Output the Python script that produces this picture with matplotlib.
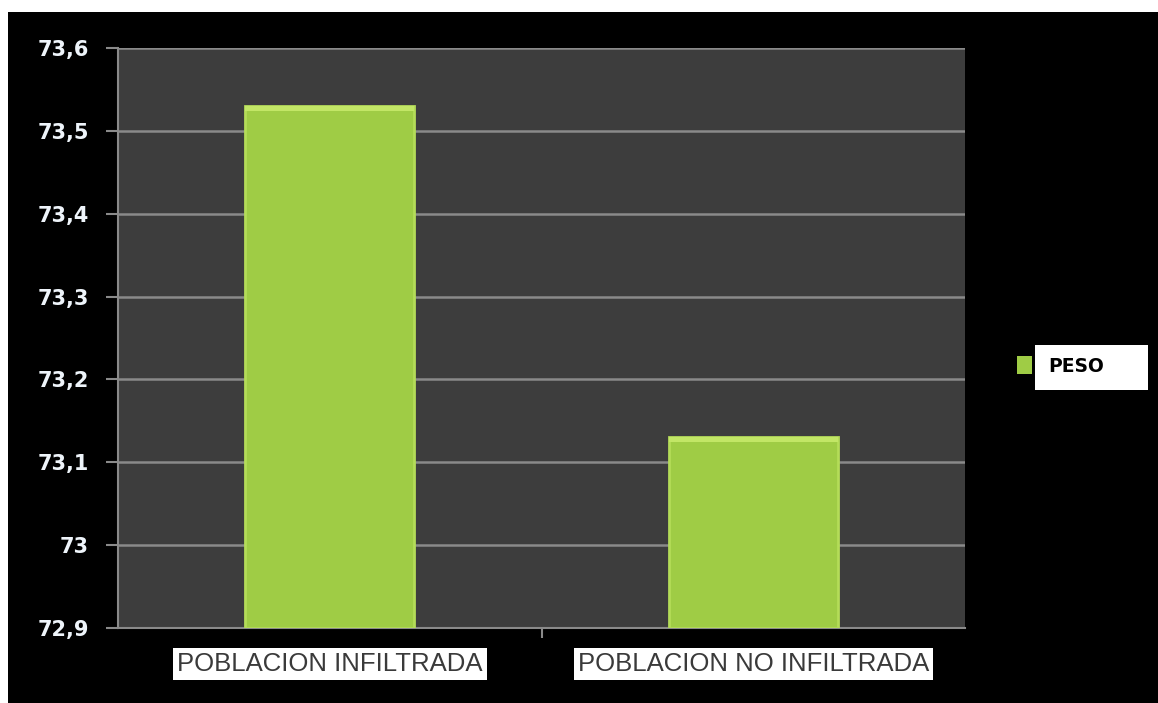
import matplotlib
matplotlib.use('Agg')
import matplotlib.pyplot as plt
from matplotlib.patches import Rectangle, Patch
from matplotlib.ticker import FixedLocator

categorias = ['POBLACION INFILTRADA', 'POBLACION NO INFILTRADA']
peso = [73.53, 73.13]
serie = 'PESO'
y_ticks = [72.9, 73.0, 73.1, 73.2, 73.3, 73.4, 73.5, 73.6]
y_labels = ['72,9', '73', '73,1', '73,2', '73,3', '73,4', '73,5', '73,6']

fig = plt.figure(figsize=(11.58, 7.03), dpi=100)
fig.patch.set_facecolor('white')

# black frame behind everything (white margin top/left like the screenshot)
fig.patches.append(Rectangle((8 / 1158, 0), 1, 1 - 12 / 703, transform=fig.transFigure,
                             facecolor='black', edgecolor='none', zorder=-5))

ax = fig.add_axes([118 / 1158, 1 - 628 / 703, (965 - 118) / 1158, (628 - 48) / 703])
ax.set_zorder(2)
ax.set_facecolor('#3d3d3d')

x = list(range(len(categorias)))
ax.bar(x, [v - 72.9 for v in peso], bottom=72.9, width=0.4,
       color='#9fcc45', edgecolor='#b4dc58', linewidth=2, zorder=3)
# lighter bevel along the top of each bar
ax.bar(x, [0.006] * len(peso), bottom=[v - 0.006 for v in peso], width=0.4,
       color='#c2e666', edgecolor='none', zorder=4)

ax.set_xlim(-0.5, len(categorias) - 0.5)
ax.set_ylim(72.9, 73.6)
ax.set_yticks(y_ticks)
ax.set_yticklabels(y_labels)
ax.yaxis.grid(True, color='#8a8a8a', linewidth=1.8, zorder=1)
ax.set_axisbelow(True)

for s in ['top', 'right']:
    ax.spines[s].set_visible(False)
for s in ['left', 'bottom']:
    ax.spines[s].set_color('#8a8a8a')
    ax.spines[s].set_linewidth(1.5)

ax.tick_params(axis='y', colors='#8a8a8a', length=9, width=1.5, pad=12)
for t in ax.get_yticklabels():
    t.set_color('#eef4fa')
    t.set_fontsize(15)
    t.set_fontweight('bold')
    t.set_fontfamily('DejaVu Sans')

ax.set_xticks(x)
ax.set_xticklabels(categorias)
ax.xaxis.set_minor_locator(FixedLocator([0.5]))
ax.tick_params(axis='x', which='major', length=0, pad=17)
ax.tick_params(axis='x', which='minor', length=7, width=1.5, colors='#8a8a8a')
for t in ax.get_xticklabels():
    t.set_color('#3a3a3a')
    t.set_fontsize(18.5)
    t.set_fontfamily('Liberation Sans')
    t.set_bbox(dict(facecolor='white', edgecolor='none', pad=3))

# legend box
ax.add_patch(Rectangle((1035 / 1158, 1 - 390 / 703), 113 / 1158, 45 / 703,
                       transform=fig.transFigure, facecolor='white',
                       edgecolor='none', clip_on=False, zorder=4))
leg = ax.legend(handles=[Patch(facecolor='#9fcc45', label=serie)],
                loc='center left', bbox_to_anchor=(1000 / 1158, 1 - 366 / 703),
                bbox_transform=fig.transFigure, frameon=False,
                handlelength=0.8, handleheight=1.1, handletextpad=0.9,
                prop={'weight': 'bold', 'size': 13.5})
leg.set_zorder(6)
for t in leg.get_texts():
    t.set_color('black')

fig.savefig('out.png', dpi=100, facecolor=fig.get_facecolor())
